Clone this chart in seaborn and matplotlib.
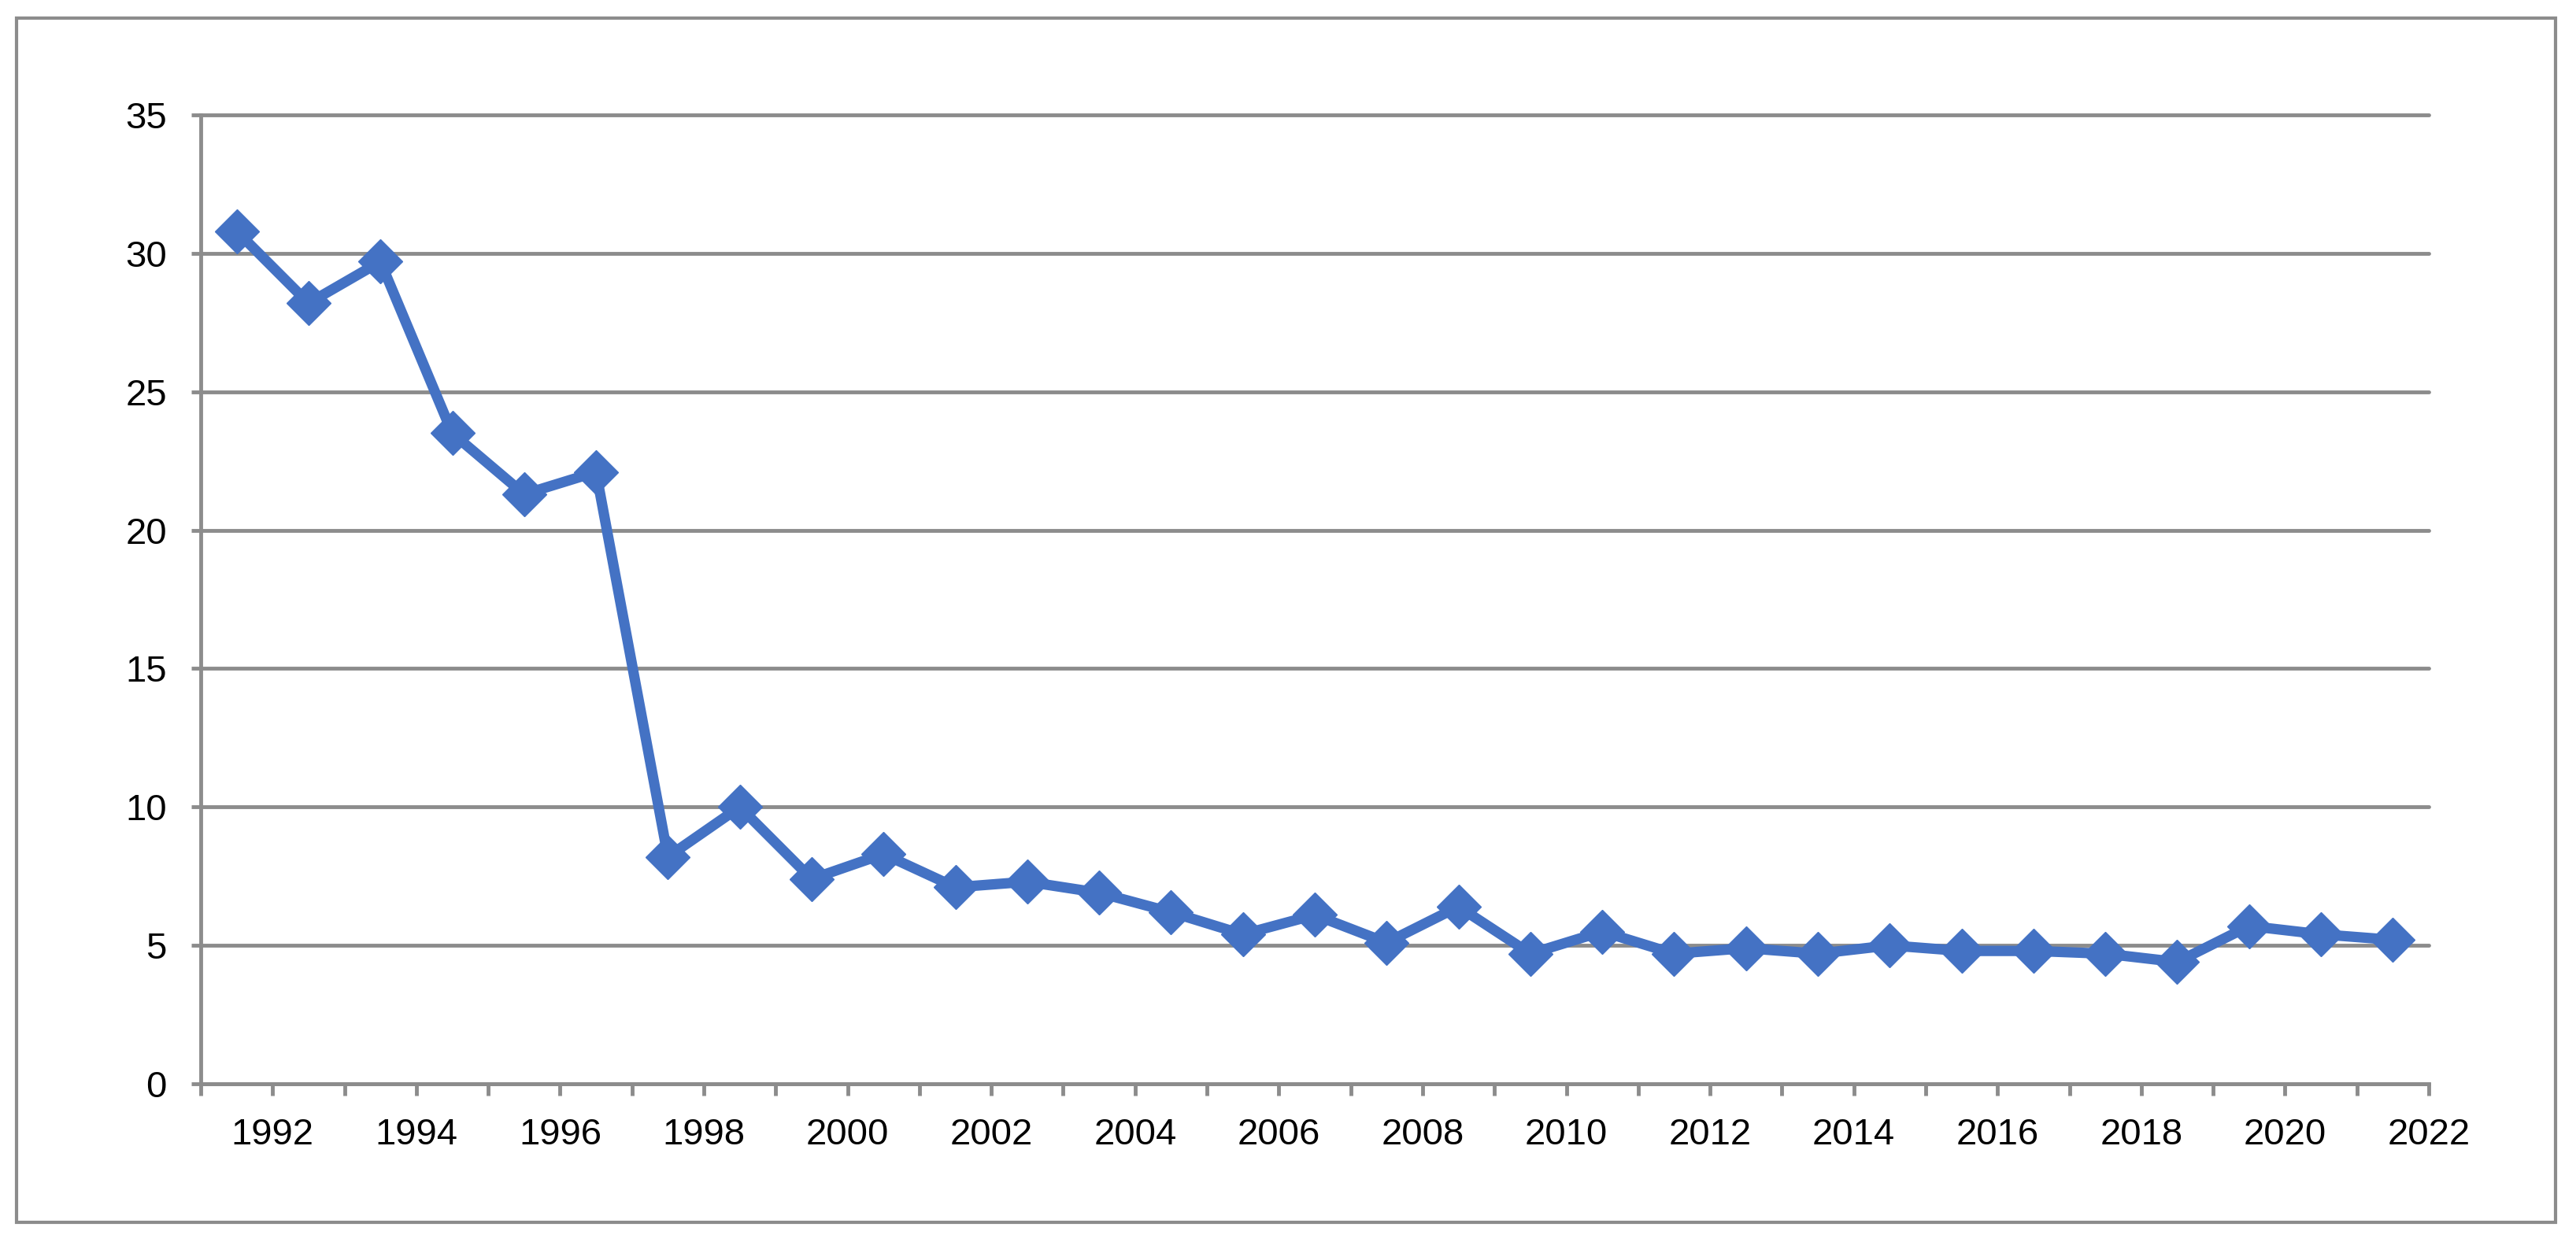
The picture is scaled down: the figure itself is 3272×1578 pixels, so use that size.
import matplotlib
matplotlib.use("Agg")
import matplotlib.pyplot as plt
import seaborn as sns
import pandas as pd
import numpy as np
from matplotlib.patches import Rectangle

years = list(range(1991, 2022))
values = [30.8, 28.2, 29.7, 23.5, 21.3, 22.1, 8.2, 10.0, 7.4, 8.3,
          7.1, 7.3, 6.9, 6.2, 5.4, 6.1, 5.1, 6.4, 4.7, 5.5,
          4.7, 4.9, 4.7, 5.0, 4.8, 4.8, 4.7, 4.4, 5.7, 5.4, 5.2]
y_ticks = [0, 5, 10, 15, 20, 25, 30, 35]

sns.set_theme(style="white")
plt.rcParams['font.family'] = ['Liberation Sans Narrow', 'Liberation Sans', 'DejaVu Sans']

GRAY = "#8c8c8c"
BLUE = "#4472C4"

df = pd.DataFrame({"pos": np.arange(len(years)) + 0.5, "value": values, "year": years})

fig = plt.figure(figsize=(32.73, 15.78), dpi=100)
ax = fig.add_axes([255/3273, 1 - 1377/1578, (3085-255)/3273, (1377-146)/1578])

sns.lineplot(data=df, x="pos", y="value", ax=ax, color=BLUE, linewidth=9.5,
             marker="D", markersize=29, markeredgewidth=1, markeredgecolor=BLUE)

ax.set_xlim(0, len(years))
ax.set_ylim(0, 35)
ax.set_xlabel("")
ax.set_ylabel("")

# x ticks at category boundaries, labels on odd boundaries
ax.set_xticks(np.arange(0, len(years) + 1))
labels = []
for i in range(len(years) + 1):
    labels.append(str(1991 + i) if i % 2 == 1 else "")
ax.set_xticklabels(labels)
ax.set_yticks(y_ticks)
ax.set_yticklabels([str(v) for v in y_ticks])

ax.tick_params(axis="x", direction="out", length=11, width=3.5, color=GRAY,
               pad=20, labelsize=34, labelcolor="black", bottom=True)
ax.tick_params(axis="y", direction="out", length=9, width=3.5, color=GRAY,
               pad=22, labelsize=34, labelcolor="black", left=True)

ax.yaxis.grid(True, color=GRAY, linewidth=3.5)
ax.xaxis.grid(False)
for gl in ax.get_ygridlines():
    gl.set_clip_on(False)
ax.set_axisbelow(True)

for s in ["top", "right"]:
    ax.spines[s].set_visible(False)
for s in ["left", "bottom"]:
    ax.spines[s].set_color(GRAY)
    ax.spines[s].set_linewidth(3.5)

# outer border
fig.patches.append(Rectangle((21/3273, 1 - 1553/1578), (3246-21)/3273, (1553-23)/1578,
                             transform=fig.transFigure, fill=False,
                             edgecolor=GRAY, linewidth=3))

fig.savefig("out.png", dpi=100, facecolor="white")
